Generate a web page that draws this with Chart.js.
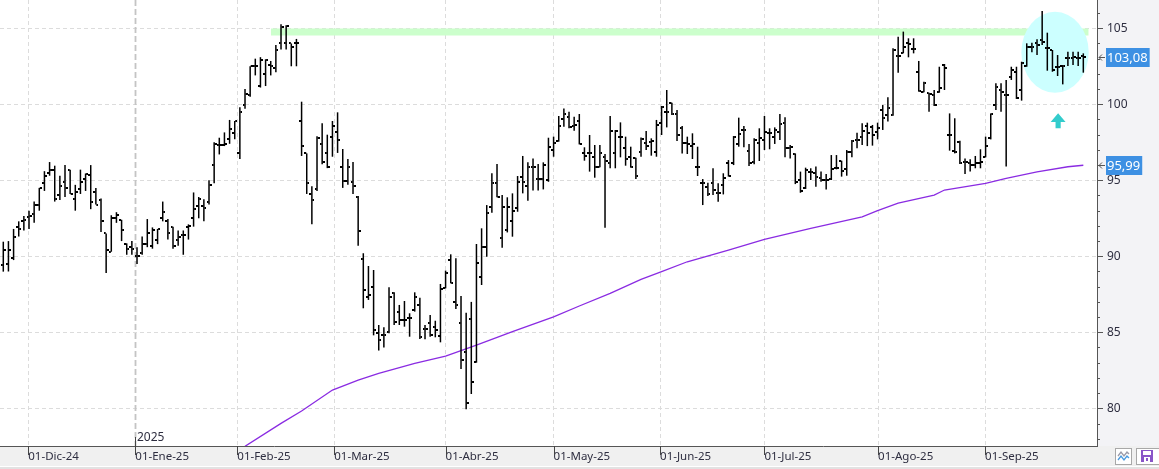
<!DOCTYPE html>
<html>
<head>
<meta charset="utf-8">
<script src="https://cdn.jsdelivr.net/npm/chart.js@4.4.1/dist/chart.umd.min.js"></script>
<style>
  html, body { margin: 0; padding: 0; background: #fff; }
  #wrap { width: 1159px; height: 469px; }
</style>
</head>
<body>
<div id="wrap"><canvas id="chart" width="1159" height="469"></canvas></div>
<script>
// daily bars, 25-Nov-24 .. 19-Sep-25 (index = trading day)
const opens = [
  89.4, 89.5, 89.9, 91.95, 92.3, 92.6, 92.8, 93.4, 94.8, 95.5,
  95.7, 94.0, 94.9, 95.7, 93.8, 94.4, 95.1, 95.35, 94.2, 93.7,
  91.5, 90.3, 92.5, 92.4, 90.8, 90.6, 90.0, 90.2, 90.8, 90.7,
  91.1, 92.5, 92.3, 91.9, 91.1, 91.4, 91.95, 92.5, 93.3, 93.3,
  93.6, 96.0, 97.3, 97.3, 97.7, 98.1, 96.8, 99.95, 100.6, 102.5,
  101.2, 102.0, 102.6, 102.4, 104.05, 104.05, 104.0, 104.0, 98.9, 96.77,
  94.1, 94.4, 97.4, 96.8, 97.85, 98.15, 95.85, 94.95, 94.9, 93.9,
  89.8, 87.34, 87.96, 84.93, 84.8, 85.04, 87.56, 86.36, 85.81, 85.92,
  86.47, 86.8, 85.2, 85.59, 85.37, 84.76, 87.89, 89.76, 87.0, 85.59,
  83.73, 85.85, 83.07, 88.66, 90.63, 93.22, 94.8, 91.18, 91.73, 92.3,
  93.15, 95.24, 94.62, 95.9, 95.08, 95.06, 95.0, 96.99, 97.6, 99.0,
  99.18, 98.59, 98.9, 96.77, 96.77, 96.55, 95.9, 96.5, 96.16, 96.77,
  97.87, 97.1, 96.55, 96.44, 96.88, 97.47, 97.54, 96.88, 98.75, 99.51,
  100.06, 99.34, 98.42, 97.43, 97.28, 95.9, 94.84, 94.53, 94.8, 94.18,
  94.69, 96.16, 96.16, 97.36, 98.31, 96.95, 96.18, 97.43, 97.65, 98.09,
  97.87, 98.2, 98.75, 97.15, 96.73, 95.02, 94.47, 95.57, 95.5, 95.13,
  95.02, 95.06, 95.79, 96.27, 95.72, 96.88, 97.65, 97.87, 98.57, 98.53,
  98.2, 99.62, 99.29, 99.29, 103.18, 103.4, 104.01, 103.62, 102.14, 100.83,
  100.72, 100.61, 100.83, 102.58, 97.98, 96.9, 97.54, 96.22, 96.11, 96.0,
  96.11, 96.55, 97.76, 99.95, 100.94, 100.61, 101.82, 102.14, 100.94, 102.52,
  103.79, 104.05, 104.23, 103.68, 103.57, 102.47, 102.52, 103.02, 103.02, 103.02,
  103.18
];
const highs = [
  90.96, 91.0, 91.8, 92.3, 92.65, 93.0, 93.6, 94.5, 95.6, 96.2,
  95.96, 95.3, 96.0, 95.7, 94.7, 95.7, 95.45, 96.0, 94.5, 93.8,
  91.5, 92.7, 92.9, 92.4, 90.85, 91.0, 90.6, 91.3, 92.45, 91.9,
  91.8, 93.6, 92.45, 91.95, 91.7, 91.7, 92.1, 94.2, 93.9, 93.75,
  95.0, 97.5, 97.8, 98.15, 98.97, 98.9, 99.8, 101.0, 102.5, 103.0,
  103.1, 102.96, 102.85, 103.9, 105.26, 105.2, 104.0, 104.3, 100.17, 96.77,
  94.6, 97.9, 98.75, 98.0, 98.9, 99.47, 97.06, 96.4, 96.2, 93.96,
  90.2, 89.36, 89.1, 85.48, 85.33, 87.96, 87.63, 86.8, 87.06, 86.25,
  87.63, 87.28, 85.48, 86.14, 85.76, 88.18, 89.06, 90.13, 89.87, 87.39,
  86.29, 87.0, 90.81, 91.84, 93.37, 95.46, 96.07, 94.03, 93.88, 94.14,
  95.28, 96.6, 96.18, 96.44, 96.07, 96.18, 97.8, 97.87, 99.23, 99.73,
  99.51, 99.18, 99.36, 97.17, 97.98, 97.32, 97.32, 96.73, 99.23, 98.31,
  98.81, 97.87, 97.21, 96.49, 97.82, 98.24, 97.76, 98.97, 99.89, 100.94,
  100.1, 99.62, 98.57, 97.87, 98.09, 97.21, 95.08, 94.84, 95.79, 94.8,
  95.46, 96.33, 97.91, 99.12, 98.57, 97.39, 97.76, 98.42, 99.23, 98.42,
  98.48, 99.36, 99.14, 97.32, 96.77, 95.57, 95.83, 95.79, 95.9, 95.57,
  95.41, 96.66, 96.66, 96.29, 96.99, 97.65, 98.13, 98.75, 98.79, 98.64,
  98.79, 99.95, 100.46, 103.68, 104.45, 104.78, 104.34, 104.34, 102.85, 101.49,
  100.76, 100.94, 102.47, 102.65, 99.4, 99.08, 97.6, 96.44, 96.38, 96.6,
  97.04, 97.87, 99.4, 101.38, 101.38, 101.6, 102.47, 102.47, 102.8, 104.01,
  104.05, 104.27, 106.14, 104.71, 103.57, 103.24, 102.58, 103.46, 103.46, 103.46,
  103.35
];
const lows = [
  88.99, 89.0, 89.75, 91.3, 91.7, 91.8, 92.2, 93.0, 94.3, 95.3,
  93.6, 93.7, 93.9, 94.1, 93.0, 94.1, 94.3, 93.1, 93.4, 91.6,
  88.9, 90.3, 92.2, 91.0, 90.1, 90.1, 89.5, 90.1, 90.6, 90.5,
  90.8, 92.3, 91.1, 90.5, 90.7, 90.1, 91.1, 91.95, 92.5, 92.3,
  93.4, 94.8, 96.7, 97.25, 97.4, 97.7, 96.4, 99.7, 100.5, 101.9,
  101.1, 101.2, 101.9, 102.1, 103.6, 103.6, 102.5, 102.5, 96.6, 94.1,
  92.1, 94.3, 96.05, 95.8, 96.55, 96.8, 94.5, 94.7, 94.1, 90.7,
  86.58, 87.13, 84.8, 83.8, 84.0, 84.93, 85.48, 85.48, 85.37, 84.71,
  86.36, 84.56, 84.54, 84.71, 84.67, 84.34, 87.89, 88.22, 86.53, 82.58,
  79.93, 80.94, 83.0, 88.11, 89.97, 92.87, 93.88, 90.57, 91.57, 91.29,
  92.93, 94.14, 93.66, 94.32, 94.32, 94.4, 94.9, 96.55, 97.54, 98.53,
  98.42, 98.26, 97.36, 96.29, 95.57, 95.17, 95.85, 91.88, 95.79, 95.79,
  96.51, 95.96, 95.83, 95.08, 96.55, 96.99, 96.62, 96.55, 97.98, 98.48,
  99.29, 97.58, 96.77, 96.73, 96.4, 95.28, 93.37, 93.97, 94.03, 93.59,
  94.07, 95.24, 96.0, 97.21, 97.17, 95.94, 96.05, 96.27, 96.99, 97.04,
  97.39, 97.65, 96.51, 96.44, 94.75, 94.18, 94.43, 95.02, 94.58, 94.9,
  94.4, 95.02, 95.72, 95.24, 95.3, 96.51, 97.1, 97.32, 97.25, 97.28,
  97.69, 98.31, 98.86, 99.25, 102.08, 103.35, 103.09, 103.35, 100.83, 100.79,
  99.51, 99.89, 100.76, 100.94, 96.95, 96.77, 96.07, 95.41, 95.57, 95.79,
  95.79, 96.51, 97.69, 99.62, 99.51, 95.9, 101.6, 100.35, 100.24, 102.47,
  103.42, 103.24, 103.9, 102.21, 102.14, 101.86, 101.31, 102.52, 102.58, 102.52,
  102.08
];
const closes = [
  90.4, 90.4, 91.3, 91.8, 92.4, 92.65, 93.4, 94.5, 95.3, 95.7,
  93.8, 94.6, 94.5, 94.1, 94.2, 94.9, 95.4, 93.6, 93.4, 92.3,
  90.4, 92.5, 92.7, 91.7, 90.5, 90.5, 90.0, 90.8, 91.5, 91.7,
  91.8, 92.9, 91.5, 90.7, 91.3, 91.4, 92.0, 93.1, 93.8, 93.2,
  94.7, 97.4, 97.3, 97.4, 98.35, 98.9, 99.5, 100.7, 102.5, 102.5,
  102.9, 102.9, 102.5, 103.6, 105.06, 105.15, 103.8, 104.05, 97.25, 94.8,
  93.7, 97.8, 96.2, 95.9, 98.6, 97.65, 94.95, 95.9, 94.6, 91.66,
  87.78, 87.45, 85.15, 84.5, 84.8, 87.34, 85.7, 85.81, 85.81, 85.92,
  87.34, 84.71, 85.2, 84.82, 85.15, 87.83, 88.88, 88.27, 86.8, 83.18,
  80.33, 81.75, 89.58, 90.59, 92.82, 94.8, 93.92, 93.26, 93.26, 93.0,
  94.86, 94.9, 95.9, 95.9, 95.08, 96.0, 97.2, 97.47, 98.57, 99.34,
  98.53, 98.64, 97.39, 96.62, 96.77, 95.9, 96.77, 96.3, 98.24, 98.26,
  97.87, 96.38, 95.85, 95.28, 97.69, 97.25, 97.58, 98.64, 99.8, 99.51,
  99.36, 97.98, 97.43, 97.39, 97.36, 95.85, 94.8, 94.1, 94.36, 94.18,
  95.13, 95.28, 97.87, 98.05, 98.31, 96.16, 97.65, 97.76, 98.2, 98.09,
  98.31, 98.7, 97.15, 97.17, 94.9, 94.32, 95.68, 95.57, 95.19, 95.02,
  95.02, 95.72, 95.83, 95.63, 96.88, 97.58, 97.65, 98.26, 98.09, 97.98,
  98.42, 99.08, 99.73, 103.57, 103.18, 103.79, 103.97, 103.62, 100.9, 101.38,
  100.68, 99.95, 101.09, 102.41, 97.98, 96.88, 96.11, 96.18, 96.0, 96.11,
  96.22, 97.28, 99.36, 101.12, 100.83, 100.61, 102.25, 100.39, 102.69, 103.79,
  103.79, 103.9, 104.12, 103.68, 102.25, 102.47, 102.52, 103.02, 103.09, 103.02,
  103.08
];

// long moving average, read at a few bar positions
const maIndex = [47, 54, 58, 64, 69, 73, 80, 86, 92, 99, 107, 112, 118, 124, 128, 133, 141, 148, 157, 167, 170, 174, 181, 183, 191, 195, 201, 207, 210];
const maValues = [77.5, 79.01, 79.82, 81.2, 81.86, 82.3, 82.96, 83.44, 84.16, 85.04, 86.02, 86.73, 87.56, 88.48, 88.99, 89.64, 90.41, 91.12, 91.84, 92.6, 93.0, 93.49, 94.03, 94.36, 94.8, 95.13, 95.56, 95.89, 95.99];

// month ticks (bar-index position) and labels
const monthTicks = [4.86, 25.67, 45.5, 64.36, 86.0, 107.0, 127.7, 148.0, 170.1, 190.9];
const monthLabels = ["01-Dic-24", "01-Ene-25", "01-Feb-25", "01-Mar-25", "01-Abr-25", "01-May-25", "01-Jun-25", "01-Jul-25", "01-Ago-25", "01-Sep-25"];
const yearTickIndex = 1;
const yearLabel = "2025";

// drawing annotations (bar index / price)
const resistanceLevel = 104.75;
const resistanceFrom = 52.05;
const resistanceTo = 211;
const circleX = 204.5, circleY = 103.42, circleRX = 6.55, circleRY = 2.66;
const arrowX = 205.1, arrowTip = 99.41, arrowNeck = 98.83, arrowBase = 98.42;
const arrowHeadHalf = 1.45, arrowShaftHalf = 0.5;

const lastClose = closes[closes.length - 1];
const lastMa = maValues[maValues.length - 1];

const textColor = '#2e2e40';
const fontFamily = '"Noto Sans", "DejaVu Sans", sans-serif';

function tickImage(left) {
  const c = document.createElement('canvas');
  c.width = 5; c.height = 2;
  const g = c.getContext('2d');
  g.fillStyle = '#000';
  g.fillRect(left ? 0 : 3, 0, 2, 2);
  return c;
}
const openImg = tickImage(true);
const closeImg = tickImage(false);

const fmt = v => v.toFixed(2).replace('.', ',');

// scales must not reserve room for label overhang: chart area fills the canvas
const noPadding = s => {
  s.paddingLeft = 0; s.paddingRight = 0; s.paddingTop = 0; s.paddingBottom = 0;
};

const decorations = {
  id: 'decorations',
  beforeDraw(chart) {
    const {ctx, chartArea: a, width, height} = chart;
    ctx.save();
    ctx.fillStyle = '#ffffff';
    ctx.fillRect(0, 0, width, height);
    ctx.fillStyle = '#f3f3f6';
    ctx.fillRect(a.right, 0, width - a.right, a.bottom);
    ctx.fillStyle = '#f0f0f0';
    ctx.fillRect(0, a.bottom, width, height - a.bottom);
    ctx.fillStyle = '#ffffff';
    ctx.fillRect(0, height - 3, width, 1);
    ctx.fillStyle = '#e2e2e2';
    ctx.fillRect(0, height - 2, width, 2);
    ctx.restore();
  },
  beforeDatasetsDraw(chart) {
    const {ctx, chartArea: a, scales: {x}} = chart;
    const px = Math.round(x.getPixelForValue(monthTicks[yearTickIndex])) + 0.5;
    ctx.save();
    ctx.strokeStyle = '#c4c4c4';
    ctx.lineWidth = 1.8;
    ctx.setLineDash([6, 3]);
    ctx.beginPath();
    ctx.moveTo(px, a.top);
    ctx.lineTo(px, a.bottom);
    ctx.stroke();
    ctx.restore();
  },
  afterDatasetDraw(chart, args) {
    if (args.index !== 0) return;
    const {ctx, scales: {x, y}} = chart;
    const cx = x.getPixelForValue(circleX), cy = y.getPixelForValue(circleY);
    const rx = Math.abs(x.getPixelForValue(circleX + circleRX) - cx);
    const ry = Math.abs(y.getPixelForValue(circleY + circleRY) - cy);
    ctx.save();
    ctx.fillStyle = '#ccffff';
    ctx.beginPath();
    ctx.ellipse(cx, cy, rx, ry, 0, 0, Math.PI * 2);
    ctx.fill();
    // up arrow
    const ax = x.getPixelForValue(arrowX);
    const hw = Math.abs(x.getPixelForValue(arrowX + arrowHeadHalf) - ax);
    const sw = Math.abs(x.getPixelForValue(arrowX + arrowShaftHalf) - ax);
    const yt = y.getPixelForValue(arrowTip), yn = y.getPixelForValue(arrowNeck), yb = y.getPixelForValue(arrowBase);
    ctx.fillStyle = '#33cccc';
    ctx.beginPath();
    ctx.moveTo(ax, yt);
    ctx.lineTo(ax + hw, yn);
    ctx.lineTo(ax + sw, yn);
    ctx.lineTo(ax + sw, yb);
    ctx.lineTo(ax - sw, yb);
    ctx.lineTo(ax - sw, yn);
    ctx.lineTo(ax - hw, yn);
    ctx.closePath();
    ctx.fill();
    ctx.restore();
  },
  afterDraw(chart) {
    const {ctx, chartArea: a, scales: {x, y}} = chart;
    ctx.save();
    // y axis minor / major tick marks
    ctx.strokeStyle = '#555';
    ctx.lineWidth = 1;
    for (let v = Math.ceil(y.min); v <= Math.floor(y.max); v++) {
      const py = Math.round(y.getPixelForValue(v)) + 0.5;
      ctx.beginPath();
      ctx.moveTo(a.right, py);
      ctx.lineTo(a.right + (v % 5 === 0 ? 6 : 3), py);
      ctx.stroke();
    }
    // month tick marks
    ctx.strokeStyle = '#444';
    monthTicks.forEach((m, i) => {
      const px = Math.round(x.getPixelForValue(m)) + 0.5;
      ctx.beginPath();
      ctx.moveTo(px, a.bottom - (i === yearTickIndex ? 9 : 0));
      ctx.lineTo(px, a.bottom + 9);
      ctx.stroke();
    });
    // year label
    const yx = Math.round(x.getPixelForValue(monthTicks[yearTickIndex]));
    ctx.fillStyle = textColor;
    ctx.font = '12px ' + fontFamily;
    ctx.textBaseline = 'middle';
    ctx.textAlign = 'left';
    ctx.fillText(yearLabel, yx + 2, a.bottom - 8);

    // price boxes
    [lastClose, lastMa].forEach(v => {
      const py = Math.round(y.getPixelForValue(v));
      const label = fmt(v);
      ctx.font = '13px ' + fontFamily;
      const w = ctx.measureText(label).width + 3;
      ctx.fillStyle = '#3d90e3';
      ctx.fillRect(a.right + 9, py - 9, w, 19);
      ctx.fillStyle = '#ffffff';
      ctx.fillText(label, a.right + 10, py + 1);
      ctx.strokeStyle = '#555';
      ctx.beginPath();
      ctx.moveTo(a.right + 2, py + 0.5);
      ctx.lineTo(a.right + 8, py + 0.5);
      ctx.moveTo(a.right + 5, py - 2.5);
      ctx.lineTo(a.right + 2, py + 0.5);
      ctx.lineTo(a.right + 5, py + 3.5);
      ctx.stroke();
    });

    // bottom-right buttons
    const by = a.bottom + 2;
    ctx.fillStyle = '#ffffff';
    ctx.strokeStyle = '#a8a8a8';
    ctx.fillRect(1115, by, 16, 16);
    ctx.strokeRect(1115.5, by + 0.5, 16, 16);
    ctx.lineWidth = 1.3;
    ctx.strokeStyle = '#9a9aa8';
    ctx.beginPath();
    ctx.moveTo(1118, by + 8); ctx.lineTo(1121, by + 4); ctx.lineTo(1124, by + 8); ctx.lineTo(1127, by + 4); ctx.lineTo(1129, by + 6);
    ctx.stroke();
    ctx.strokeStyle = '#4a9ae0';
    ctx.beginPath();
    ctx.moveTo(1118, by + 12); ctx.lineTo(1121, by + 8); ctx.lineTo(1124, by + 12); ctx.lineTo(1127, by + 8); ctx.lineTo(1129, by + 10);
    ctx.stroke();
    ctx.lineWidth = 1;
    ctx.fillStyle = '#ffffff';
    ctx.strokeStyle = '#a8a8a8';
    ctx.fillRect(1136, by, 24, 16);
    ctx.strokeRect(1136.5, by + 0.5, 24, 16);
    ctx.fillStyle = '#8a55c8';
    ctx.fillRect(1141, by + 2, 12, 12);
    ctx.fillStyle = '#ffffff';
    ctx.fillRect(1143, by + 3, 8, 4);
    ctx.fillRect(1144, by + 9, 6, 5);
    ctx.fillStyle = '#8a55c8';
    ctx.fillRect(1146, by + 10, 2, 3);
    ctx.restore();
  }
};

new Chart(document.getElementById('chart'), {
  type: 'bar',
  data: {
    datasets: [
      {
        type: 'line',
        data: [{x: resistanceFrom, y: resistanceLevel}, {x: resistanceTo, y: resistanceLevel}],
        borderColor: '#ccffcc',
        borderWidth: 7,
        borderCapStyle: 'butt',
        pointRadius: 0,
        order: 10,
        clip: 0
      },
      {
        type: 'line',
        data: maIndex.map((i, k) => ({x: i, y: maValues[k]})),
        borderColor: '#8a2be2',
        borderWidth: 1.3,
        pointRadius: 0,
        tension: 0,
        order: 5,
        clip: 0
      },
      {
        type: 'bar',
        data: highs.map((h, i) => ({x: i, y: [lows[i], h]})),
        backgroundColor: '#000',
        borderWidth: 0,
        barThickness: 1.5,
        inflateAmount: 0,
        order: 2
      },
      {
        type: 'line',
        data: opens.map((v, i) => ({x: i, y: v})),
        showLine: false,
        pointStyle: openImg,
        pointRadius: 2,
        order: 1
      },
      {
        type: 'line',
        data: closes.map((v, i) => ({x: i, y: v})),
        showLine: false,
        pointStyle: closeImg,
        pointRadius: 2,
        order: 0
      }
    ]
  },
  options: {
    responsive: false,
    animation: false,
    events: [],
    layout: { padding: 0, autoPadding: false },
    plugins: {
      legend: { display: false },
      tooltip: { enabled: false }
    },
    scales: {
      x: {
        type: 'linear',
        min: -0.64,
        max: 212.66,
        offset: false,
        grid: {
          offset: false,
          color: c => c.index === yearTickIndex ? 'rgba(0,0,0,0)' : '#dcdcdc',
          lineWidth: 1,
          drawTicks: false
        },
        border: { display: true, color: '#555', width: 1, dash: [4, 3] },
        afterBuildTicks: s => { s.ticks = monthTicks.map(v => ({value: v})); },
        afterFit: s => { s.height = 23; noPadding(s); },
        ticks: {
          autoSkip: false,
          maxRotation: 0,
          align: 'start',
          padding: 4,
          color: textColor,
          font: { family: fontFamily, size: 11.5 },
          callback: (v, i) => monthLabels[i]
        }
      },
      y: {
        type: 'linear',
        position: 'right',
        min: 77.52,
        max: 106.86,
        grid: { color: '#dcdcdc', lineWidth: 1, drawTicks: false },
        border: { display: true, color: '#555', width: 1, dash: [4, 3] },
        afterFit: s => { s.width = 62; noPadding(s); },
        ticks: {
          stepSize: 5,
          includeBounds: false,
          padding: 10,
          color: textColor,
          font: { family: fontFamily, size: 12 },
          callback: v => (v % 5 === 0 ? String(v) : '')
        }
      }
    }
  },
  plugins: [decorations]
});
</script>
</body>
</html>
